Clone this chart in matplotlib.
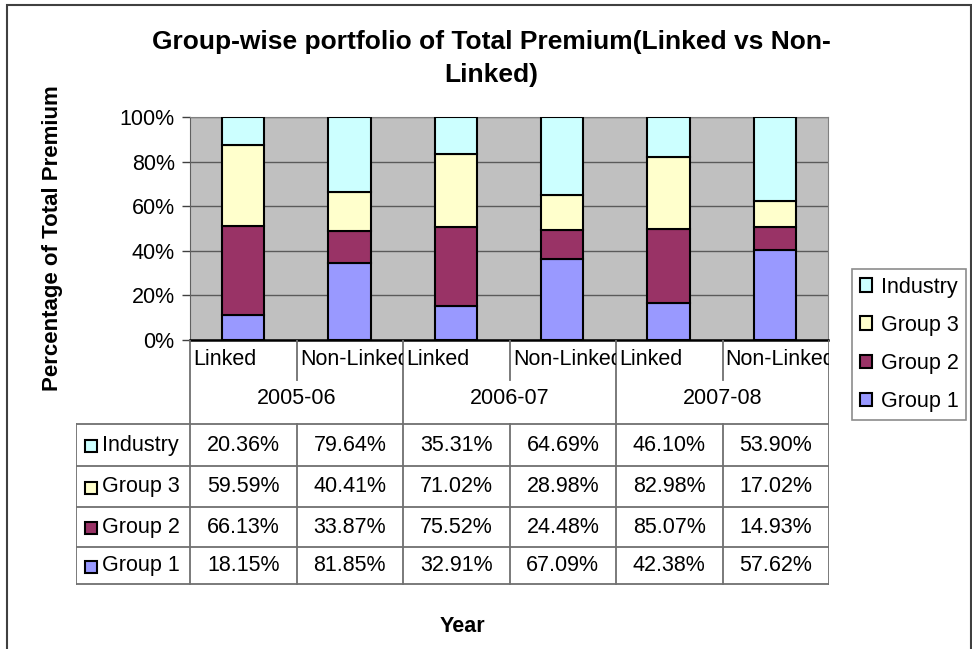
import matplotlib.pyplot as plt
import numpy as np
from matplotlib.patches import Rectangle
from matplotlib.transforms import Bbox, TransformedBbox

plt.rcParams['font.family'] = ['Liberation Sans', 'DejaVu Sans']

years = ['2005-06', '2006-07', '2007-08']
kinds = ['Linked', 'Non-Linked']
series = ['Group 1', 'Group 2', 'Group 3', 'Industry']
colors = ['#9999FF', '#993366', '#FFFFCC', '#CCFFFF']

group1 = [18.15, 81.85, 32.91, 67.09, 42.38, 57.62]
group2 = [66.13, 33.87, 75.52, 24.48, 85.07, 14.93]
group3 = [59.59, 40.41, 71.02, 28.98, 82.98, 17.02]
industry = [20.36, 79.64, 35.31, 64.69, 46.10, 53.90]

W, H = 972, 649
fig = plt.figure(figsize=(W / 100, H / 100), dpi=100)

def box(x0, y0, x1, y1):
    return [x0 / W, 1 - y1 / H, (x1 - x0) / W, (y1 - y0) / H]

# outer frame
fig.patches.append(Rectangle((7 / W, -0.05), (971 - 7) / W, 1 - 5 / H + 0.05,
                             transform=fig.transFigure, fill=False,
                             edgecolor='#404040', lw=1.5))

# ---- stacked bars (100% stacked) ----
ax = fig.add_axes(box(190, 117, 828, 340))
vals = np.array([group1, group2, group3, industry])
pct = vals / vals.sum(axis=0) * 100
x = np.arange(6)
bottom = np.zeros(6)
handles = []
for i in range(4):
    b = ax.bar(x, pct[i], 0.4, bottom=bottom, color=colors[i],
               edgecolor='black', lw=1.5, zorder=3, label=series[i])
    handles.append(b)
    bottom += pct[i]

ax.set_facecolor('#C0C0C0')
ax.set_xlim(-0.5, 5.5)
ax.set_ylim(0, 100)
ax.set_yticks(range(0, 101, 20))
ax.set_yticklabels(['%d%%' % v for v in range(0, 101, 20)], fontsize=15.5)
ax.set_xticks([])
ax.tick_params(axis='y', length=6, width=1, color='#404040', pad=5)
ax.yaxis.grid(True, color='#5a5a5a', lw=1, zorder=1)
for s in ['top', 'right']:
    ax.spines[s].set_color('#808080')
ax.spines['left'].set_color('#606060')
ax.spines['bottom'].set_color('black')
ax.spines['bottom'].set_linewidth(1.8)
ax.set_ylabel('Percentage of Total Premium', fontsize=16, fontweight='bold',
              labelpad=0)
ax.yaxis.set_label_coords(-127 / 638, 0.455)

# ---- category axis + data table ----
tx = fig.add_axes(box(76, 340, 829, 590))
left = -0.5 - (190 - 76) / (638 / 6)
tx.set_xlim(left, 5.5)
tx.set_ylim(590, 340)
tx.axis('off')
lc = '#707070'
rows = [424, 466, 507, 547, 584]
fs = 15.5

# category labels
for i in range(6):
    t = tx.text(i - 0.47, 359, kinds[i % 2], fontsize=fs, va='center',
                ha='left', clip_on=True)
    t.set_clip_box(TransformedBbox(Bbox([[i - 0.5, 340], [i + 0.5, 390]]),
                                   tx.transData))
    if i % 2 == 1:
        tx.plot([i - 0.5, i - 0.5], [340, 380], color=lc, lw=1.3)
for j, yr in enumerate(years):
    tx.text(2 * j + 0.5, 398, yr, fontsize=fs, ha='center', va='center')
for xv in [-0.5, 1.5, 3.5, 5.5]:
    tx.plot([xv, xv], [340, 584], color=lc, lw=1.3)

# table grid
for yv in rows:
    tx.plot([left, 5.5], [yv, yv], color=lc, lw=1.3)
for xv in [left, 0.5, 2.5, 4.5]:
    tx.plot([xv, xv], [424, 584], color=lc, lw=1.3)

order = [3, 2, 1, 0]
for r, si in enumerate(order):
    yc = (rows[r] + rows[r + 1]) / 2
    tx.plot(left + 0.14, yc + 1, marker='s', ms=9, mfc=colors[si],
            mec='black', mew=1.5)
    tx.text(left + 0.245, yc, series[si], fontsize=fs, va='center')
    for i in range(6):
        tx.text(i, yc, '%.2f%%' % vals[si][i], fontsize=fs,
                ha='center', va='center')

# legend
leg = fig.legend([handles[i] for i in order], [series[i] for i in order],
                 loc='upper left', bbox_to_anchor=(852 / W, 1 - 269 / H),
                 fontsize=15.5, frameon=True, fancybox=False, edgecolor='#707070',
                 handlelength=0.6, handleheight=0.6, handletextpad=0.4,
                 labelspacing=0.8, borderpad=0.35, borderaxespad=0)
leg.get_frame().set_linewidth(1.2)

fig.text(491 / W, 1 - 42 / H, 'Group-wise portfolio of Total Premium(Linked vs Non-',
         fontsize=19, fontweight='bold', ha='center', va='center')
fig.text(491 / W, 1 - 75 / H, 'Linked)', fontsize=19, fontweight='bold',
         ha='center', va='center')
fig.text(462 / W, 1 - 626 / H, 'Year', fontsize=15.5, fontweight='bold',
         ha='center', va='center')

fig.savefig('out.png', dpi=100)
